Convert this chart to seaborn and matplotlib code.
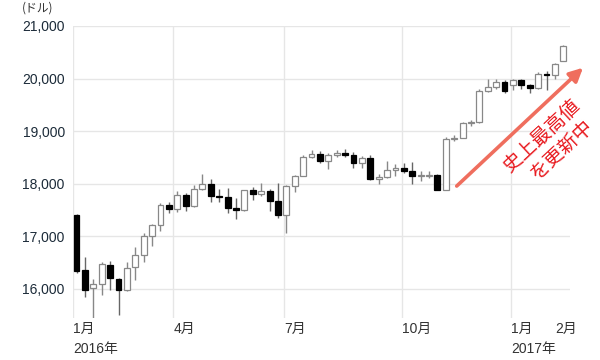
"""
NYダウ 週足ローソク足チャート (2016年1月〜2017年2月)
"""

import numpy as np
import matplotlib
matplotlib.use("Agg")
import matplotlib.pyplot as plt
import seaborn as sns

# 週足データ (始値, 高値, 安値, 終値)
opens = [17405, 16355, 16009, 16090, 16453, 16180, 15978, 16417, 16639, 17006,
         17213, 17602, 17515, 17792, 17577, 17897, 18003, 17773, 17740, 17535,
         17500, 17873, 17807, 17865, 17675, 17400, 17949, 18146, 18516, 18570,
         18432, 18543, 18576, 18552, 18395, 18492, 18085, 18124, 18261, 18308,
         18240, 18138, 18145, 18161, 17888, 18847, 18868, 19152, 19171, 19757,
         19843, 19934, 19872, 19964, 19885, 19827, 20093, 20071, 20338]
highs = [17420, 16600, 16190, 16515, 16536, 16200, 16512, 16795, 17060, 17240,
         17640, 17660, 17860, 17830, 17970, 18178, 18095, 17907, 17926, 17736,
         17890, 17940, 18021, 17900, 18021, 17980, 18170, 18540, 18640, 18620,
         18580, 18640, 18668, 18600, 18530, 18540, 18180, 18430, 18370, 18400,
         18420, 18250, 18250, 18180, 18880, 18935, 19170, 19220, 19800, 20000,
         19990, 19980, 19999, 19990, 19900, 20125, 20140, 20300, 20640]
lows = [16300, 15842, 15451, 15878, 15987, 15503, 15970, 16165, 16510, 16821,
        17100, 17450, 17460, 17483, 17560, 17880, 17653, 17653, 17440, 17331,
        17480, 17690, 17760, 17483, 17345, 17063, 17850, 18140, 18480, 18400,
        18273, 18500, 18510, 18300, 18300, 18080, 17990, 18100, 18150, 18200,
        17990, 18060, 18100, 17880, 17880, 18820, 18860, 19100, 19150, 19740,
        19800, 19720, 19775, 19800, 19730, 19800, 19780, 20000, 20330]
closes = [16346, 15988, 16093, 16466, 16205, 15974, 16392, 16640, 17006, 17213,
          17602, 17515, 17792, 17577, 17897, 18003, 17773, 17740, 17535, 17500,
          17873, 17807, 17865, 17675, 17400, 17949, 18146, 18516, 18570, 18432,
          18543, 18576, 18552, 18395, 18492, 18085, 18124, 18261, 18308, 18240,
          18138, 18145, 18161, 17888, 18847, 18868, 19152, 19171, 19757, 19843,
          19934, 19763, 19964, 19886, 19827, 20093, 20071, 20269, 20624]

# 月の区切り (週番号) とラベル
month_pos = [-0.4, 11.55, 24.75, 38.8, 51.8, 57.0]
month_labels = ['1月\n2016年', '4月', '7月', '10月', '1月\n2017年', '2月']
quarter_lines = [-0.4, 11.55, 24.75, 38.8, 51.8]
y_ticks = [16000, 17000, 18000, 19000, 20000, 21000]

sns.set_style("white")
plt.rcParams['font.family'] = ['Liberation Sans', 'Noto Sans CJK JP', 'DejaVu Sans']

fig = plt.figure(figsize=(6, 3.6), dpi=100)
ax = fig.add_axes([0.122, 0.117, 0.828, 0.811])

x = np.arange(len(opens))
o = np.array(opens, dtype=float)
c = np.array(closes, dtype=float)
h = np.array(highs, dtype=float)
l = np.array(lows, dtype=float)
up = c >= o

# ヒゲ
ax.vlines(x[up], l[up], h[up], color='#888888', linewidth=1, zorder=2)
ax.vlines(x[~up], l[~up], h[~up], color='#666666', linewidth=1, zorder=2)

# 実体
bottom = np.minimum(o, c)
height = np.maximum(np.abs(c - o), 22)
ax.bar(x[up], height[up], bottom=bottom[up], width=0.7,
       color='white', edgecolor='#888888', linewidth=0.9, zorder=3)
ax.bar(x[~up], height[~up], bottom=bottom[~up], width=0.7,
       color='black', edgecolor='black', linewidth=0.9, zorder=3)

# グリッド
for yv in y_ticks:
    ax.axhline(yv, color='#e6e6e6', linewidth=1, zorder=0)
for xv in quarter_lines:
    ax.axvline(xv, color='#e6e6e6', linewidth=1, zorder=0)

ax.set_xlim(-0.4, 58.8)
ax.set_ylim(15450, 21000)
for s in ax.spines.values():
    s.set_visible(False)

ax.set_yticks(y_ticks)
ax.set_yticklabels([f'{v:,}' for v in y_ticks], fontsize=10, color='#1c2b39')
ax.tick_params(axis='y', length=0, pad=6)

ax.set_xticks(month_pos)
ax.set_xticklabels(month_labels, fontsize=10, color='#333333', ha='left',
                   linespacing=1.55, va='top')
ax.tick_params(axis='x', length=0, pad=3)

fig.text(0.037, 0.997, '(ドル)', fontsize=8.5, color='#333333', va='top',
         family=['Noto Sans CJK JP'])

# 矢印と注記
ax.annotate('', xy=(60.35, 20205), xytext=(45.3, 17956),
            xycoords='data', textcoords='data',
            arrowprops=dict(arrowstyle='-|>,head_length=0.8,head_width=0.4',
                            color='#ef6e5e', lw=2.6, shrinkA=0, shrinkB=0),
            annotation_clip=False, zorder=5)
ax.text(55.4, 18900, '史上最高値', rotation=43, color='#e8191e', fontsize=14,
        ha='center', va='center', family=['Noto Sans CJK JP'], zorder=6,
        clip_on=False)
ax.text(57.8, 18640, 'を更新中', rotation=43, color='#e8191e', fontsize=14,
        ha='center', va='center', family=['Noto Sans CJK JP'], zorder=6,
        clip_on=False)

fig.savefig('out.png', dpi=100)
